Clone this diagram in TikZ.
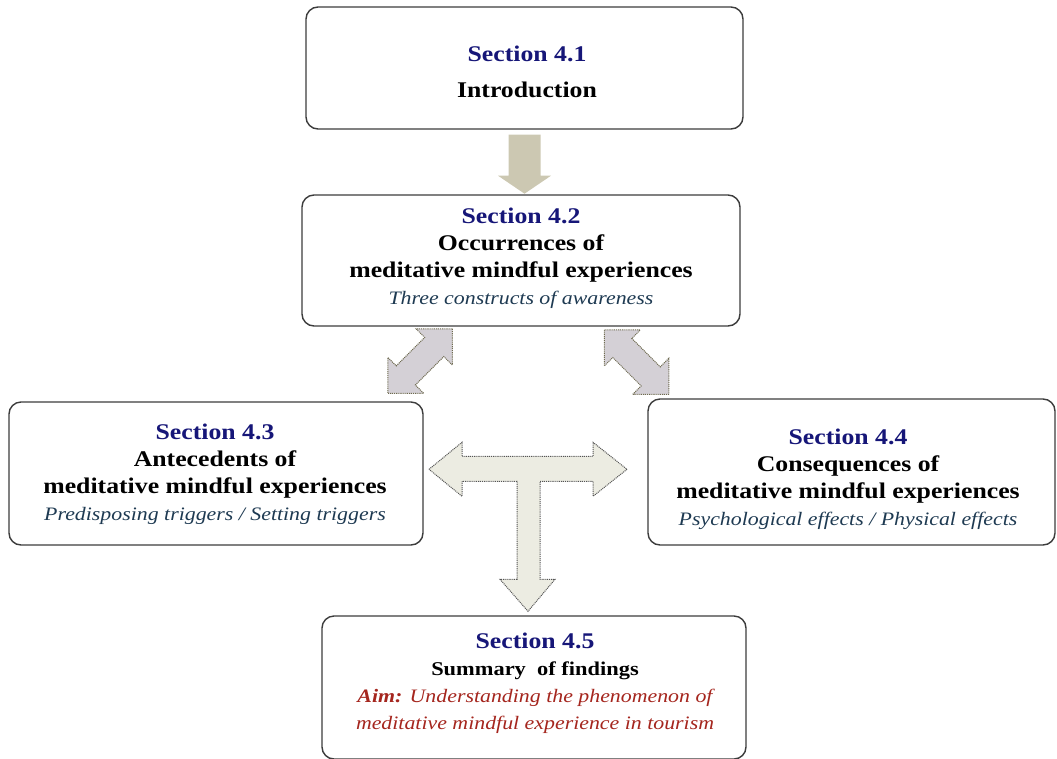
\documentclass[tikz,border=0pt]{standalone}
\usepackage{fontspec}
\setmainfont{Liberation Serif}[FakeStretch=1.15]
\usetikzlibrary{calc}

\definecolor{secblue}{RGB}{22,22,120}
\definecolor{descblue}{RGB}{30,58,82}
\definecolor{aimred}{RGB}{165,38,30}
\definecolor{boxline}{RGB}{60,60,60}
\definecolor{downfill}{RGB}{204,200,178}
\definecolor{diagfill}{RGB}{212,208,214}
\definecolor{tfill}{RGB}{236,236,226}
\definecolor{diagdots}{RGB}{110,106,80}
\definecolor{tdots}{RGB}{85,85,85}

% text line styles
\newcommand\sectline[1]{{\color{secblue}\fontsize{22.4}{27}\selectfont\bfseries #1}}
\newcommand\headline[1]{{\fontsize{22.4}{27}\selectfont\bfseries #1}}
\newcommand\subhead[1]{{\fontsize{19.5}{27}\selectfont\bfseries #1}}
\newcommand\descline[1]{{\color{descblue}\fontsize{19}{27}\selectfont\itshape #1}}
\newcommand\aimline[1]{{\color{aimred}\fontsize{19}{27}\selectfont\itshape #1}}

\begin{document}
\begin{tikzpicture}[x=1pt,y=-1pt,
  box/.style={draw=boxline, line width=1.4pt, rounded corners=12pt, fill=white, inner sep=0pt},
  txt/.style={align=center, inner sep=0pt, font=\fontsize{22.4}{27}\selectfont},
  blockarrow/.style 2 args={fill=#1, draw=#2, line width=1pt, dash pattern=on 1pt off 0.9pt},
]
\useasboundingbox (0,0) rectangle (1057,758);

% section boxes
\node[box, minimum width=437pt, minimum height=122pt] (b1) at (524.5,68) {};
\node[box, minimum width=438pt, minimum height=131pt] (b2) at (521,260.5) {};
\node[box, minimum width=414pt, minimum height=143pt] (b3) at (216,473.5) {};
\node[box, minimum width=407pt, minimum height=146pt] (b4) at (851.5,472) {};
\node[box, minimum width=424pt, minimum height=143pt] (b5) at (534,687.5) {};

% box contents
\node[txt] (t1) at (527,71.5) {\sectline{Section 4.1}\\[9pt]\headline{Introduction}};
\node[txt] (t2) at (521,258) {\sectline{Section 4.2}\\\headline{Occurrences of}\\\headline{meditative mindful experiences}\\\descline{Three constructs of awareness}};
\node[txt] (t3) at (215,474) {\sectline{Section 4.3}\\\headline{Antecedents of}\\\headline{meditative mindful experiences}\\\descline{Predisposing triggers / Setting triggers}};
\node[txt] (t4) at (848,479) {\sectline{Section 4.4}\\\headline{Consequences of}\\\headline{meditative mindful experiences}\\\descline{Psychological effects / Physical effects}};
\node[txt] (t5) at (535,683.5) {\sectline{Section 4.5}\\\subhead{Summary\ \ of findings}\\\aimline{\bfseries Aim:\mdseries{} Understanding the phenomenon of}\\\aimline{meditative mindful experience in tourism}};

% anchor points of the block arrows
\coordinate (a1) at ($(b1.south)+(0,5)$);
\coordinate (d1) at ($(b2.south)+(-101,34.5)$);
\coordinate (d2) at ($(b2.south)+(115.5,35.5)$);
\coordinate (tc) at ($(b5.north)+(-6,-146)$);

% 4.1 -> 4.2
\begin{scope}[shift={(a1)}]
  \fill[downfill] (-16,0) -- (16,0) -- (16,41) -- (26.5,41) -- (0,59)
    -- (-26.5,41) -- (-16,41) -- cycle;
\end{scope}

% 4.2 <-> 4.3
\begin{scope}[shift={(d1)}, rotate=45]
  \draw[blockarrow={diagfill}{diagdots}] (45.6,0) -- (20.1,25.5) -- (20.1,13.5) -- (-20.1,13.5)
    -- (-20.1,25.5) -- (-45.6,0) -- (-20.1,-25.5) -- (-20.1,-13.5) -- (20.1,-13.5)
    -- (20.1,-25.5) -- cycle;
\end{scope}

% 4.2 <-> 4.4
\begin{scope}[shift={(d2)}, rotate=-45]
  \draw[blockarrow={diagfill}{diagdots}] (45.6,0) -- (20.1,25.5) -- (20.1,13.5) -- (-20.1,13.5)
    -- (-20.1,25.5) -- (-45.6,0) -- (-20.1,-25.5) -- (-20.1,-13.5) -- (20.1,-13.5)
    -- (20.1,-25.5) -- cycle;
\end{scope}

% 4.3 <-> 4.4, down to 4.5
\begin{scope}[shift={(tc)}]
  \draw[blockarrow={tfill}{tdots}] (-99,0) -- (-66,-27) -- (-66,-13) -- (65,-13) -- (65,-27)
    -- (99,0) -- (65,27) -- (65,12) -- (12,12) -- (12,110) -- (27,110) -- (0,142)
    -- (-28,110) -- (-11,110) -- (-11,12) -- (-66,12) -- (-66,27) -- cycle;
\end{scope}
\end{tikzpicture}
\end{document}
